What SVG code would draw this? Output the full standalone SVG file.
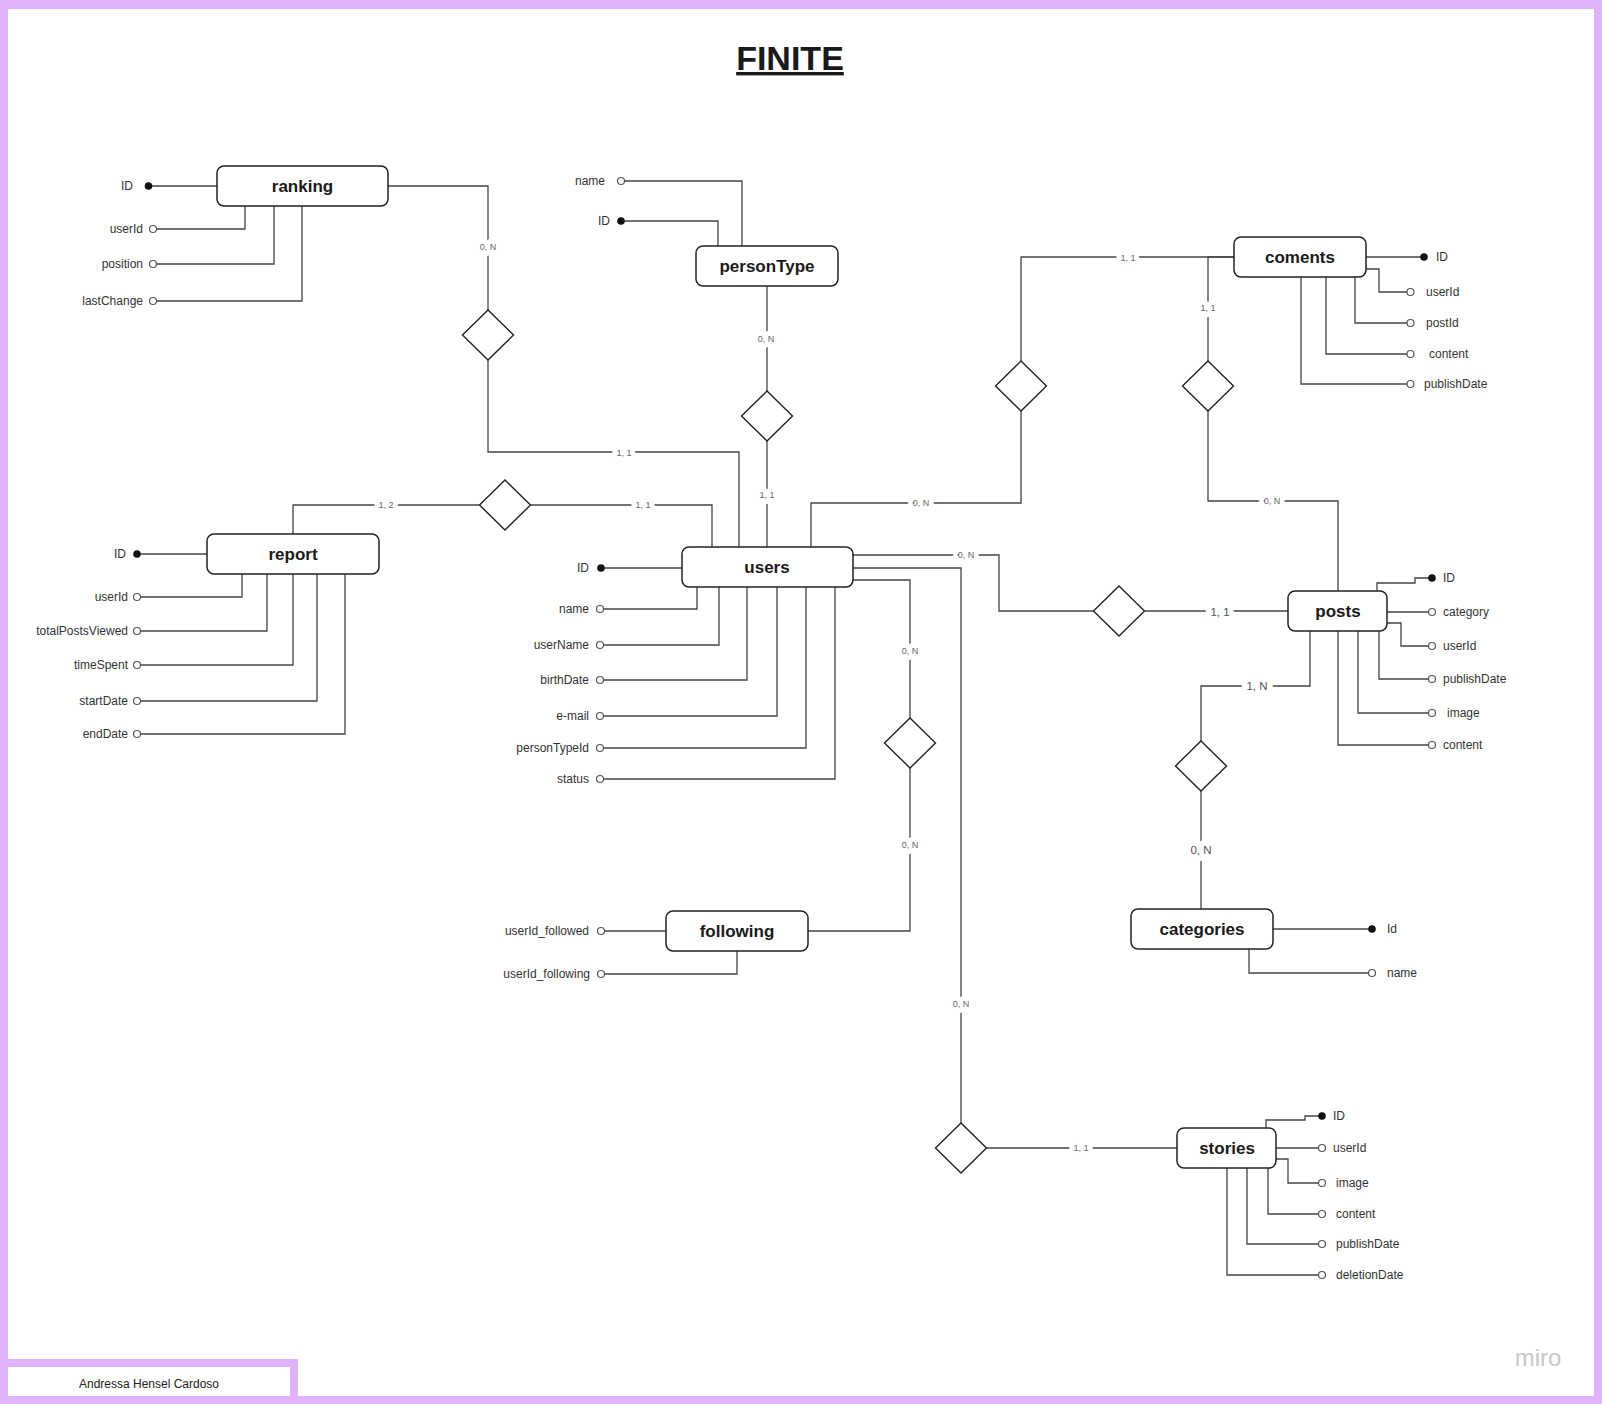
<svg xmlns="http://www.w3.org/2000/svg" width="1602" height="1404" viewBox="0 0 1602 1404">
<style>
.ent rect{fill:#fff;stroke:#222;stroke-width:1.5}
.ent text{font-family:"Liberation Sans",Arial,sans-serif;font-size:17px;font-weight:bold;fill:#1a1a1a;text-anchor:middle}
.at{font-family:"Liberation Sans",Arial,sans-serif;font-size:12px;fill:#333}
.r{text-anchor:end}
.ln{fill:none;stroke:#444;stroke-width:1.3}
.dot{fill:#111}
.oc{fill:#fff;stroke:#555;stroke-width:1.2}
.dia{fill:#fff;stroke:#222;stroke-width:1.4}
.lbl{font-family:"Liberation Sans",Arial,sans-serif;font-size:9px;fill:#666;text-anchor:middle;paint-order:stroke;stroke:#fff;stroke-width:10px;stroke-linejoin:round}
.lbl2{font-family:"Liberation Sans",Arial,sans-serif;font-size:11.5px;fill:#555;text-anchor:middle;paint-order:stroke;stroke:#fff;stroke-width:12px;stroke-linejoin:round}
</style>
<rect x="0" y="0" width="1602" height="1404" fill="#e1b3fb"/>
<rect x="8" y="9" width="1586" height="1387" fill="#fff"/>
<rect x="8" y="1367" width="282" height="29" fill="#fff"/>
<path d="M4 1363 H294 V1404" fill="none" stroke="#e1b3fb" stroke-width="8"/>
<text x="149" y="1388" font-family="'Liberation Sans',Arial,sans-serif" font-size="12" fill="#222" text-anchor="middle">Andressa Hensel Cardoso</text>
<text x="1538" y="1366" font-family="'Liberation Sans',Arial,sans-serif" font-size="24" fill="#c8c8c8" text-anchor="middle">miro</text>
<text x="790" y="70" font-family="'Liberation Sans',Arial,sans-serif" font-size="34" font-weight="bold" fill="#1a1a1a" text-anchor="middle" text-decoration="underline">FINITE</text>

<g id="connectors">
<path class="ln" d="M388 186 H488 V310"/>
<path class="ln" d="M488 360 V452 H739 V547"/>
<path class="ln" d="M767 286 V391"/>
<path class="ln" d="M767 441 V547"/>
<path class="ln" d="M293 534 V505 H479.5"/>
<path class="ln" d="M530.5 505 H712 V547"/>
<path class="ln" d="M811 547 V503 H1021 V411"/>
<path class="ln" d="M1021 361 V257 H1234"/>
<path class="ln" d="M1234 257 H1208 V361"/>
<path class="ln" d="M1208 411 V501 H1338 V591"/>
<path class="ln" d="M853 555 H999 V611 H1093"/>
<path class="ln" d="M1145 611 H1288"/>
<path class="ln" d="M853 580 H910 V718"/>
<path class="ln" d="M910 768 V931 H808"/>
<path class="ln" d="M853 568 H961 V1123"/>
<path class="ln" d="M986.5 1148 H1177"/>
<path class="ln" d="M1310 631 V686 H1201 V741"/>
<path class="ln" d="M1201 791 V909"/>

<polygon class="dia" points="488,310 513.5,335 488,360 462.5,335"/>
<polygon class="dia" points="767,391 792.5,416 767,441 741.5,416"/>
<polygon class="dia" points="505,480 530.5,505 505,530 479.5,505"/>
<polygon class="dia" points="1021,361 1046.5,386 1021,411 995.5,386"/>
<polygon class="dia" points="1208,361 1233.5,386 1208,411 1182.5,386"/>
<polygon class="dia" points="1119,586 1144.5,611 1119,636 1093.5,611"/>
<polygon class="dia" points="910,718 935.5,743 910,768 884.5,743"/>
<polygon class="dia" points="1201,741 1226.5,766 1201,791 1175.5,766"/>
<polygon class="dia" points="961,1123 986.5,1148 961,1173 935.5,1148"/>

<text class="lbl" x="488" y="250">0, N</text>
<text class="lbl" x="624" y="455.5">1, 1</text>
<text class="lbl" x="766" y="342">0, N</text>
<text class="lbl" x="767" y="498">1, 1</text>
<text class="lbl" x="386" y="508">1, 2</text>
<text class="lbl" x="643" y="508">1, 1</text>
<text class="lbl" x="921" y="506">0, N</text>
<text class="lbl" x="1128" y="260.5">1, 1</text>
<text class="lbl" x="1208" y="310.5">1, 1</text>
<text class="lbl" x="1272" y="504">0, N</text>
<text class="lbl" x="966" y="558">0, N</text>
<text class="lbl2" x="1220" y="615.5">1, 1</text>
<text class="lbl" x="910" y="654">0, N</text>
<text class="lbl" x="910" y="848">0, N</text>
<text class="lbl" x="961" y="1007">0, N</text>
<text class="lbl" x="1081" y="1151">1, 1</text>
<text class="lbl2" x="1257" y="690">1, N</text>
<text class="lbl2" x="1201" y="854">0, N</text>
</g>

<g id="ranking">
<path class="ln" d="M148.5 186 H217"/>
<path class="ln" d="M156.5 229 H245 V206"/>
<path class="ln" d="M156.5 264 H274 V206"/>
<path class="ln" d="M156.5 301 H302 V206"/>
<circle class="dot" cx="148.5" cy="186" r="3.8"/>
<circle class="oc" cx="153" cy="229" r="3.5"/>
<circle class="oc" cx="153" cy="264" r="3.5"/>
<circle class="oc" cx="153" cy="301" r="3.5"/>
<text class="at r" x="133" y="190">ID</text>
<text class="at r" x="143" y="233">userId</text>
<text class="at r" x="143" y="268">position</text>
<text class="at r" x="143" y="305">lastChange</text>
<g class="ent"><rect x="217" y="166" width="171" height="40" rx="7"/><text x="302.5" y="192">ranking</text></g>
</g>

<g id="personType">
<path class="ln" d="M624.5 181 H742 V246"/>
<path class="ln" d="M621 221 H718 V246"/>
<circle class="oc" cx="621" cy="181" r="3.5"/>
<circle class="dot" cx="621" cy="221" r="3.8"/>
<text class="at r" x="605" y="185">name</text>
<text class="at r" x="610" y="225">ID</text>
<g class="ent"><rect x="696" y="246" width="142" height="40" rx="7"/><text x="767" y="272">personType</text></g>
</g>

<g id="report">
<path class="ln" d="M137 554 H207"/>
<path class="ln" d="M140.5 597 H242 V574"/>
<path class="ln" d="M140.5 631 H267 V574"/>
<path class="ln" d="M140.5 665 H293 V574"/>
<path class="ln" d="M140.5 701 H317 V574"/>
<path class="ln" d="M140.5 734 H345 V574"/>
<circle class="dot" cx="137" cy="554" r="3.8"/>
<circle class="oc" cx="137" cy="597" r="3.5"/>
<circle class="oc" cx="137" cy="631" r="3.5"/>
<circle class="oc" cx="137" cy="665" r="3.5"/>
<circle class="oc" cx="137" cy="701" r="3.5"/>
<circle class="oc" cx="137" cy="734" r="3.5"/>
<text class="at r" x="126" y="558">ID</text>
<text class="at r" x="128" y="601">userId</text>
<text class="at r" x="128" y="635">totalPostsViewed</text>
<text class="at r" x="128" y="669">timeSpent</text>
<text class="at r" x="128" y="705">startDate</text>
<text class="at r" x="128" y="738">endDate</text>
<g class="ent"><rect x="207" y="534" width="172" height="40" rx="7"/><text x="293" y="560">report</text></g>
</g>

<g id="users">
<path class="ln" d="M601 568 H682"/>
<path class="ln" d="M603.5 609 H697 V587"/>
<path class="ln" d="M603.5 645 H719 V587"/>
<path class="ln" d="M603.5 680 H747 V587"/>
<path class="ln" d="M603.5 716 H777 V587"/>
<path class="ln" d="M603.5 748 H806 V587"/>
<path class="ln" d="M603.5 779 H835 V587"/>
<circle class="dot" cx="601" cy="568" r="3.8"/>
<circle class="oc" cx="600" cy="609" r="3.5"/>
<circle class="oc" cx="600" cy="645" r="3.5"/>
<circle class="oc" cx="600" cy="680" r="3.5"/>
<circle class="oc" cx="600" cy="716" r="3.5"/>
<circle class="oc" cx="600" cy="748" r="3.5"/>
<circle class="oc" cx="600" cy="779" r="3.5"/>
<text class="at r" x="589" y="572">ID</text>
<text class="at r" x="589" y="613">name</text>
<text class="at r" x="589" y="649">userName</text>
<text class="at r" x="589" y="684">birthDate</text>
<text class="at r" x="589" y="720">e-mail</text>
<text class="at r" x="589" y="752">personTypeId</text>
<text class="at r" x="589" y="783">status</text>
<g class="ent"><rect x="682" y="547" width="171" height="40" rx="7"/><text x="767" y="573">users</text></g>
</g>

<g id="coments">
<path class="ln" d="M1366 257 H1424"/>
<path class="ln" d="M1366 269 H1379 V292 H1407"/>
<path class="ln" d="M1355 277 V323 H1407"/>
<path class="ln" d="M1326 277 V354 H1407"/>
<path class="ln" d="M1301 277 V384 H1407"/>
<circle class="dot" cx="1424" cy="257" r="3.8"/>
<circle class="oc" cx="1410.5" cy="292" r="3.5"/>
<circle class="oc" cx="1410.5" cy="323" r="3.5"/>
<circle class="oc" cx="1410.5" cy="354" r="3.5"/>
<circle class="oc" cx="1410.5" cy="384" r="3.5"/>
<text class="at" x="1436" y="261">ID</text>
<text class="at" x="1426" y="296">userId</text>
<text class="at" x="1426" y="327">postId</text>
<text class="at" x="1429" y="358">content</text>
<text class="at" x="1424" y="388">publishDate</text>
<g class="ent"><rect x="1234" y="237" width="132" height="40" rx="7"/><text x="1300" y="263">coments</text></g>
</g>

<g id="posts">
<path class="ln" d="M1377 591 V583 H1415 V578 H1432"/>
<path class="ln" d="M1387 612 H1428.5"/>
<path class="ln" d="M1387 623 H1401 V646 H1428.5"/>
<path class="ln" d="M1379 631 V679 H1428.5"/>
<path class="ln" d="M1358 631 V713 H1428.5"/>
<path class="ln" d="M1338 631 V745 H1428.5"/>
<circle class="dot" cx="1432" cy="578" r="3.8"/>
<circle class="oc" cx="1432" cy="612" r="3.5"/>
<circle class="oc" cx="1432" cy="646" r="3.5"/>
<circle class="oc" cx="1432" cy="679" r="3.5"/>
<circle class="oc" cx="1432" cy="713" r="3.5"/>
<circle class="oc" cx="1432" cy="745" r="3.5"/>
<text class="at" x="1443" y="582">ID</text>
<text class="at" x="1443" y="616">category</text>
<text class="at" x="1443" y="650">userId</text>
<text class="at" x="1443" y="683">publishDate</text>
<text class="at" x="1447" y="717">image</text>
<text class="at" x="1443" y="749">content</text>
<g class="ent"><rect x="1288" y="591" width="99" height="40" rx="7"/><text x="1338" y="617">posts</text></g>
</g>

<g id="categories">
<path class="ln" d="M1273 929 H1372"/>
<path class="ln" d="M1249 949 V973 H1368.5"/>
<circle class="dot" cx="1372" cy="929" r="3.8"/>
<circle class="oc" cx="1372" cy="973" r="3.5"/>
<text class="at" x="1387" y="933">Id</text>
<text class="at" x="1387" y="977">name</text>
<g class="ent"><rect x="1131" y="909" width="142" height="40" rx="7"/><text x="1202" y="935">categories</text></g>
</g>

<g id="following">
<path class="ln" d="M604.5 931 H666"/>
<path class="ln" d="M604.5 974 H737 V951"/>
<circle class="oc" cx="601" cy="931" r="3.5"/>
<circle class="oc" cx="601" cy="974" r="3.5"/>
<text class="at r" x="589" y="935">userId_followed</text>
<text class="at r" x="590" y="978">userId_following</text>
<g class="ent"><rect x="666" y="911" width="142" height="40" rx="7"/><text x="737" y="937">following</text></g>
</g>

<g id="stories">
<path class="ln" d="M1266 1128 V1120 H1305 V1116 H1322"/>
<path class="ln" d="M1276 1148 H1318.5"/>
<path class="ln" d="M1276 1159 H1288 V1183 H1318.5"/>
<path class="ln" d="M1268 1168 V1214 H1318.5"/>
<path class="ln" d="M1247 1168 V1244 H1318.5"/>
<path class="ln" d="M1227 1168 V1275 H1318.5"/>
<circle class="dot" cx="1322" cy="1116" r="3.8"/>
<circle class="oc" cx="1322" cy="1148" r="3.5"/>
<circle class="oc" cx="1322" cy="1183" r="3.5"/>
<circle class="oc" cx="1322" cy="1214" r="3.5"/>
<circle class="oc" cx="1322" cy="1244" r="3.5"/>
<circle class="oc" cx="1322" cy="1275" r="3.5"/>
<text class="at" x="1333" y="1120">ID</text>
<text class="at" x="1333" y="1152">userId</text>
<text class="at" x="1336" y="1187">image</text>
<text class="at" x="1336" y="1218">content</text>
<text class="at" x="1336" y="1248">publishDate</text>
<text class="at" x="1336" y="1279">deletionDate</text>
<g class="ent"><rect x="1177" y="1128" width="99" height="40" rx="7"/><text x="1227" y="1154">stories</text></g>
</g>
</svg>
